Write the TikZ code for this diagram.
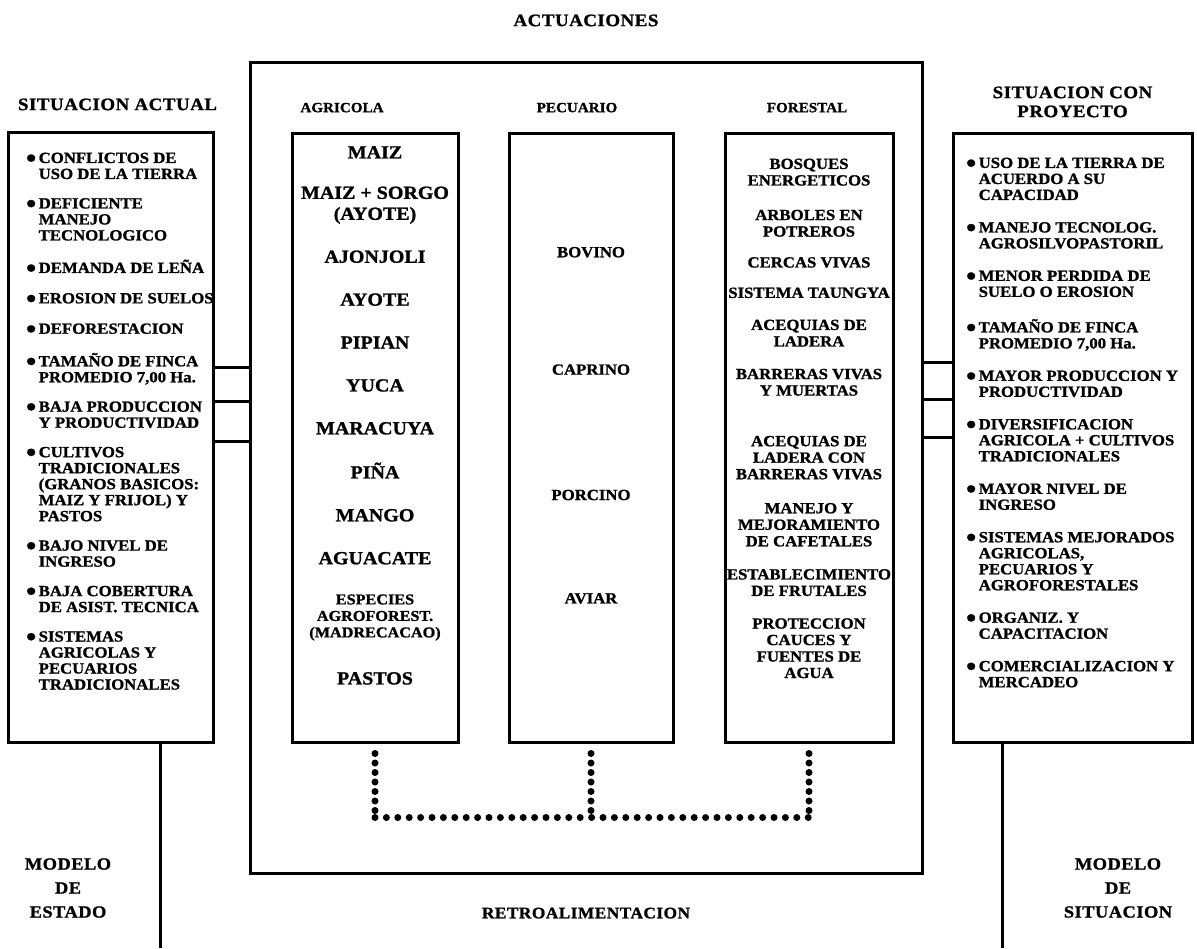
\documentclass[tikz,border=0pt]{standalone}
\usepackage{fontspec}
\setmainfont{Liberation Serif}[FakeStretch=1.08,BoldFeatures={FakeBold=1.2}]
\newfontfamily\ttlfont{Liberation Serif}[FakeStretch=1.08,LetterSpace=3,BoldFeatures={FakeBold=1.2}]
\usetikzlibrary{positioning}

\newcommand{\bul}{\llap{{\fontsize{17}{17}\selectfont ●}\hspace{2pt}}}

\begin{document}
\begin{tikzpicture}[x=1pt, y=-1pt]

    \tikzset{
      caja/.style    = {rectangle, draw=black, line width=3pt, inner sep=0pt},
      linea/.style   = {draw=black, line width=3pt},
      ttl/.style     = {inner sep=0pt, align=center, font=\ttlfont\bfseries\fontsize{17.5}{19}\selectfont},
      colhead/.style = {inner sep=0pt, font=\bfseries\fontsize{14}{16}\selectfont},
      sitem/.style   = {inner sep=0pt, anchor=north west, align=left, font=\bfseries\fontsize{15.5}{16}\selectfont,
                        execute at begin node=\strut, execute at end node=\strut},
      agr/.style     = {inner sep=0pt, align=center, font=\bfseries\fontsize{18.5}{21}\selectfont,
                        execute at begin node=\strut, execute at end node=\strut},
      agrsm/.style   = {agr, font=\bfseries\fontsize{15}{16.5}\selectfont},
      forl/.style    = {agr, font=\bfseries\fontsize{15.5}{16.5}\selectfont},
      vpunto/.style  = {line width=7pt, line cap=round, dash pattern=on 0pt off 9.5pt},
      hpunto/.style  = {line width=7pt, line cap=round, dash pattern=on 0pt off 11.4pt},
    }

    \useasboundingbox (0,0) rectangle (1197,948);

    % marcos
    \node (grande)   [caja, minimum width=672pt, minimum height=811pt] at (586,467.5) {};
    \node (actual)   [caja, minimum width=205pt, minimum height=610pt] at (110.5,437) {};
    \node (proy)     [caja, minimum width=239pt, minimum height=609pt] at (1072.5,437.5) {};
    \node (agri)     [caja, minimum width=166pt, minimum height=609pt] at (375,437.5) {};
    \node (pecu)     [caja, minimum width=164pt, minimum height=609pt] at (591,437.5) {};
    \node (fores)    [caja, minimum width=168pt, minimum height=609pt] at (809,437.5) {};

    % titulos
    \node (tact)     [ttl, above=34pt of grande]                 {ACTUACIONES};
    \node (tsit)     [ttl, above=20pt of actual, xshift=7pt]     {SITUACION ACTUAL};
    \node (tpro)     [ttl, above=14pt of proy]                   {SITUACION CON\\PROYECTO};
    \node (tret)     [ttl, font=\ttlfont\bfseries\fontsize{16}{17}\selectfont, below=33pt of grande] {RETROALIMENTACION};
    \node (hagr)     [colhead, above=19pt of agri, xshift=-33pt]  {AGRICOLA};
    \node (hpec)     [colhead, above=19pt of pecu, xshift=-14pt]  {PECUARIO};
    \node (hfor)     [colhead, above=19pt of fores, xshift=-2pt]  {FORESTAL};

    % situacion actual
    \node (a1)  [sitem, below right=22pt and 32pt of actual.north west] {\bul CONFLICTOS DE\\USO DE LA TIERRA};
    \node (a2)  [sitem, below=14pt of a1.south west, anchor=north west] {\bul DEFICIENTE\\MANEJO\\TECNOLOGICO};
    \node (a3)  [sitem, below=14pt of a2.south west, anchor=north west] {\bul DEMANDA DE LEÑA};
    \node (a4)  [sitem, below=14pt of a3.south west, anchor=north west] {\bul EROSION DE SUELOS};
    \node (a5)  [sitem, below=14pt of a4.south west, anchor=north west] {\bul DEFORESTACION};
    \node (a6)  [sitem, below=14pt of a5.south west, anchor=north west] {\bul TAMAÑO DE FINCA\\PROMEDIO 7,00 Ha.};
    \node (a7)  [sitem, below=14pt of a6.south west, anchor=north west] {\bul BAJA PRODUCCION\\Y PRODUCTIVIDAD};
    \node (a8)  [sitem, below=14pt of a7.south west, anchor=north west] {\bul CULTIVOS\\TRADICIONALES\\(GRANOS BASICOS:\\MAIZ Y FRIJOL) Y\\PASTOS};
    \node (a9)  [sitem, below=14pt of a8.south west, anchor=north west] {\bul BAJO NIVEL DE\\INGRESO};
    \node (a10) [sitem, below=14pt of a9.south west, anchor=north west] {\bul BAJA COBERTURA\\DE ASIST. TECNICA};
    \node (a11) [sitem, below=14pt of a10.south west, anchor=north west] {\bul SISTEMAS\\AGRICOLAS Y\\PECUARIOS\\TRADICIONALES};

    % situacion con proyecto
    \node (r1)  [sitem, below right=26pt and 27pt of proy.north west] {\bul USO DE LA TIERRA DE\\ACUERDO A SU\\CAPACIDAD};
    \node (r2)  [sitem, below=17pt of r1.south west, anchor=north west] {\bul MANEJO TECNOLOG.\\AGROSILVOPASTORIL};
    \node (r3)  [sitem, below=17pt of r2.south west, anchor=north west] {\bul MENOR PERDIDA DE\\SUELO O EROSION};
    \node (r4)  [sitem, below=17pt of r3.south west, anchor=north west] {\bul TAMAÑO DE FINCA\\PROMEDIO 7,00 Ha.};
    \node (r5)  [sitem, below=17pt of r4.south west, anchor=north west] {\bul MAYOR PRODUCCION Y\\PRODUCTIVIDAD};
    \node (r6)  [sitem, below=17pt of r5.south west, anchor=north west] {\bul DIVERSIFICACION\\AGRICOLA + CULTIVOS\\TRADICIONALES};
    \node (r7)  [sitem, below=17pt of r6.south west, anchor=north west] {\bul MAYOR NIVEL DE\\INGRESO};
    \node (r8)  [sitem, below=17pt of r7.south west, anchor=north west] {\bul SISTEMAS MEJORADOS\\AGRICOLAS,\\PECUARIOS Y\\AGROFORESTALES};
    \node (r9)  [sitem, below=17pt of r8.south west, anchor=north west] {\bul ORGANIZ. Y\\CAPACITACION};
    \node (r10) [sitem, below=17pt of r9.south west, anchor=north west] {\bul COMERCIALIZACION Y\\MERCADEO};

    % agricola
    \node (g1)  [agr, below=12pt of agri.north] {MAIZ};
    \node (g2)  [agr, below=21.5pt of g1]   {MAIZ + SORGO\\(AYOTE)};
    \node (g3)  [agr, below=21.5pt of g2]   {AJONJOLI};
    \node (g4)  [agr, below=21.5pt of g3]   {AYOTE};
    \node (g5)  [agr, below=21.5pt of g4]   {PIPIAN};
    \node (g6)  [agr, below=21.5pt of g5]   {YUCA};
    \node (g7)  [agr, below=21.5pt of g6]   {MARACUYA};
    \node (g8)  [agr, below=21.5pt of g7]   {PIÑA};
    \node (g9)  [agr, below=21.5pt of g8]   {MANGO};
    \node (g10) [agr, below=21.5pt of g9]   {AGUACATE};
    \node (g11) [agrsm, below=23.5pt of g10] {ESPECIES\\AGROFOREST.\\(MADRECACAO)};
    \node (g12) [agr, below=27pt of g11]    {PASTOS};

    % pecuario
    \node (p1)  [forl, below=114pt of pecu.north] {BOVINO};
    \node (p2)  [forl, below=100.5pt of p1] {CAPRINO};
    \node (p3)  [forl, below=108.5pt of p2] {PORCINO};
    \node (p4)  [forl, below=86.5pt of p3]  {AVIAR};

    % forestal
    \node (f1)  [forl, below=27pt of fores.north] {BOSQUES\\ENERGETICOS};
    \node (f2)  [forl, below=19pt of f1]   {ARBOLES EN\\POTREROS};
    \node (f3)  [forl, below=14pt of f2]   {CERCAS VIVAS};
    \node (f4)  [forl, below=13.5pt of f3] {SISTEMA TAUNGYA};
    \node (f5)  [forl, below=16.5pt of f4] {ACEQUIAS DE\\LADERA};
    \node (f6)  [forl, below=17pt of f5]   {BARRERAS VIVAS\\Y MUERTAS};
    \node (f7)  [forl, below=35pt of f6]   {ACEQUIAS DE\\LADERA CON\\BARRERAS VIVAS};
    \node (f8)  [forl, below=18.5pt of f7] {MANEJO Y\\MEJORAMIENTO\\DE CAFETALES};
    \node (f9)  [forl, below=17.5pt of f8] {ESTABLECIMIENTO\\DE FRUTALES};
    \node (f10) [forl, below=17pt of f9]   {PROTECCION\\CAUCES Y\\FUENTES DE\\AGUA};

    % modelos
    \node (mest) [ttl, font=\ttlfont\bfseries\fontsize{17}{24}\selectfont] at (68,888)   {MODELO\\DE\\ESTADO};
    \node (msit) [ttl, font=\ttlfont\bfseries\fontsize{17}{24}\selectfont] at (1118,888) {MODELO\\DE\\SITUACION};

    % enlaces laterales
    \coordinate (l1) at (0,367);
    \coordinate (l2) at (0,401);
    \coordinate (l3) at (0,441);
    \coordinate (d1) at (0,362);
    \coordinate (d2) at (0,399);
    \coordinate (d3) at (0,437);
    \draw[linea] (actual.east |- l1) -- (grande.west |- l1);
    \draw[linea] (actual.east |- l2) -- (grande.west |- l2);
    \draw[linea] (actual.east |- l3) -- (grande.west |- l3);
    \draw[linea] (grande.east |- d1) -- (proy.west |- d1);
    \draw[linea] (grande.east |- d2) -- (proy.west |- d2);
    \draw[linea] (grande.east |- d3) -- (proy.west |- d3);

    \coordinate (finl) at (160,948);
    \coordinate (finr) at (1002,948);
    \draw[linea] (actual.south -| finl) -- (finl);
    \draw[linea] (proy.south -| finr) -- (finr);

    % retroalimentacion punteada
    \coordinate (bl) at ([yshift=-74pt]agri.south);
    \coordinate (bm) at ([yshift=-74pt]pecu.south);
    \coordinate (br) at ([yshift=-74pt]fores.south);
    \draw[vpunto] ([yshift=-10pt]agri.south) -- (bl);
    \draw[vpunto] ([yshift=-10pt]pecu.south) -- (bm);
    \draw[vpunto] ([yshift=-10pt]fores.south) -- (br);
    \draw[hpunto] (bl) -- (br);

\end{tikzpicture}
\end{document}
